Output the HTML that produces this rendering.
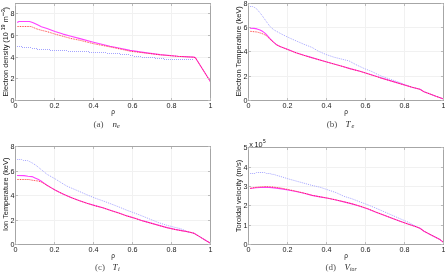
<!DOCTYPE html>
<html><head><meta charset="utf-8"><style>
html,body{margin:0;padding:0;background:#fff;}
svg{display:block;}
text{-webkit-font-smoothing:antialiased;}
.t{font-family:"Liberation Sans",sans-serif;font-size:7.2px;fill:#1a1a1a;}
.cap{font-family:"Liberation Serif",serif;font-size:9px;fill:#3a3a3a;}
</style></head><body>
<svg width="445" height="273" viewBox="0 0 445 273">
<rect width="445" height="273" fill="#fff"/>
<g style="will-change:transform">
<line x1="54.5" y1="3.5" x2="54.5" y2="100.5" stroke="#f1f1f1" stroke-width="1"/>
<line x1="93.5" y1="3.5" x2="93.5" y2="100.5" stroke="#f1f1f1" stroke-width="1"/>
<line x1="132.5" y1="3.5" x2="132.5" y2="100.5" stroke="#f1f1f1" stroke-width="1"/>
<line x1="171.5" y1="3.5" x2="171.5" y2="100.5" stroke="#f1f1f1" stroke-width="1"/>
<line x1="15.5" y1="78.50" x2="210.5" y2="78.50" stroke="#f1f1f1" stroke-width="1"/>
<line x1="15.5" y1="57.50" x2="210.5" y2="57.50" stroke="#f1f1f1" stroke-width="1"/>
<line x1="15.5" y1="35.50" x2="210.5" y2="35.50" stroke="#f1f1f1" stroke-width="1"/>
<line x1="15.5" y1="13.50" x2="210.5" y2="13.50" stroke="#f1f1f1" stroke-width="1"/>
<path d="M17,46.5H22 M22,47.5H32 M32,48.5H37 M37,49.5H50 M50,50.5H68 M68,51.5H89 M89,52.5H107 M107,53.5H120 M120,54.5H130 M130,55.5H134 M134,56.5H142 M142,57.5H155 M155,58.5H164 M164,59.5H194" fill="none" stroke="#a4a4ff" stroke-width="1" stroke-dasharray="1 1"/>
<polyline points="17.20,22.50 19.00,21.50 29.50,21.50 32.60,22.50 37.00,24.60 41.40,26.70 47.00,28.50 55.00,31.40 63.00,34.10 71.00,36.30 80.00,38.60 93.50,42.20 110.00,46.30 120.00,48.30 130.00,50.40 145.00,52.60 160.00,54.60 178.00,56.20 193.50,57.10 195.30,57.60 197.00,60.30 210.50,81.80" fill="none" stroke="#ff40ff" stroke-width="1.1" stroke-linejoin="round"/>
<polyline points="17.20,26.50 31.00,26.50 32.60,27.20 37.00,29.00 41.40,30.30 47.00,31.60 55.00,34.10 63.00,36.30 71.00,38.50 80.00,40.30 93.50,43.70 110.00,46.90 120.00,49.00 130.00,51.20 160.00,54.80 178.00,56.40 193.50,57.20 195.30,57.60 197.00,60.30 210.50,81.80" fill="none" stroke="#ff1010" stroke-opacity="0.5" stroke-width="1" stroke-dasharray="2.4 2.4" stroke-dashoffset="0.2"/>
<polyline points="17.20,26.50 31.00,26.50 32.60,27.20 37.00,29.00 41.40,30.30 47.00,31.60 55.00,34.10 63.00,36.30 71.00,38.50 80.00,40.30 93.50,43.70 110.00,46.90 120.00,49.00 130.00,51.20 160.00,54.80 178.00,56.40 193.50,57.20 195.30,57.60 197.00,60.30 210.50,81.80" fill="none" stroke="#ff1010" stroke-opacity="0.8" stroke-width="1" stroke-dasharray="1 3.8" stroke-dashoffset="-2.9"/>
<rect x="15.5" y="3.5" width="195.0" height="97.0" fill="none" stroke="#a6a6a6" stroke-width="1"/>
<line x1="15.5" y1="100.0" x2="15.5" y2="98.0" stroke="#bcbcbc" stroke-width="1"/>
<line x1="15.5" y1="4.0" x2="15.5" y2="6.0" stroke="#bcbcbc" stroke-width="1"/>
<line x1="54.5" y1="100.0" x2="54.5" y2="98.0" stroke="#bcbcbc" stroke-width="1"/>
<line x1="54.5" y1="4.0" x2="54.5" y2="6.0" stroke="#bcbcbc" stroke-width="1"/>
<line x1="93.5" y1="100.0" x2="93.5" y2="98.0" stroke="#bcbcbc" stroke-width="1"/>
<line x1="93.5" y1="4.0" x2="93.5" y2="6.0" stroke="#bcbcbc" stroke-width="1"/>
<line x1="132.5" y1="100.0" x2="132.5" y2="98.0" stroke="#bcbcbc" stroke-width="1"/>
<line x1="132.5" y1="4.0" x2="132.5" y2="6.0" stroke="#bcbcbc" stroke-width="1"/>
<line x1="171.5" y1="100.0" x2="171.5" y2="98.0" stroke="#bcbcbc" stroke-width="1"/>
<line x1="171.5" y1="4.0" x2="171.5" y2="6.0" stroke="#bcbcbc" stroke-width="1"/>
<line x1="210.5" y1="100.0" x2="210.5" y2="98.0" stroke="#bcbcbc" stroke-width="1"/>
<line x1="210.5" y1="4.0" x2="210.5" y2="6.0" stroke="#bcbcbc" stroke-width="1"/>
<line x1="16.0" y1="100.50" x2="18.0" y2="100.50" stroke="#bcbcbc" stroke-width="1"/>
<line x1="210.0" y1="100.50" x2="208.0" y2="100.50" stroke="#bcbcbc" stroke-width="1"/>
<line x1="16.0" y1="78.50" x2="18.0" y2="78.50" stroke="#bcbcbc" stroke-width="1"/>
<line x1="210.0" y1="78.50" x2="208.0" y2="78.50" stroke="#bcbcbc" stroke-width="1"/>
<line x1="16.0" y1="57.50" x2="18.0" y2="57.50" stroke="#bcbcbc" stroke-width="1"/>
<line x1="210.0" y1="57.50" x2="208.0" y2="57.50" stroke="#bcbcbc" stroke-width="1"/>
<line x1="16.0" y1="35.50" x2="18.0" y2="35.50" stroke="#bcbcbc" stroke-width="1"/>
<line x1="210.0" y1="35.50" x2="208.0" y2="35.50" stroke="#bcbcbc" stroke-width="1"/>
<line x1="16.0" y1="13.50" x2="18.0" y2="13.50" stroke="#bcbcbc" stroke-width="1"/>
<line x1="210.0" y1="13.50" x2="208.0" y2="13.50" stroke="#bcbcbc" stroke-width="1"/>
<text x="15.50" y="107.60" class="t" text-anchor="middle">0</text>
<text x="54.50" y="107.60" class="t" text-anchor="middle">0.2</text>
<text x="93.50" y="107.60" class="t" text-anchor="middle">0.4</text>
<text x="132.50" y="107.60" class="t" text-anchor="middle">0.6</text>
<text x="171.50" y="107.60" class="t" text-anchor="middle">0.8</text>
<text x="210.50" y="107.60" class="t" text-anchor="middle">1</text>
<text x="14.60" y="103.00" class="t" text-anchor="end">0</text>
<text x="14.60" y="81.00" class="t" text-anchor="end">2</text>
<text x="14.60" y="60.00" class="t" text-anchor="end">4</text>
<text x="14.60" y="38.00" class="t" text-anchor="end">6</text>
<text x="14.60" y="16.00" class="t" text-anchor="end">8</text>
<text x="113.00" y="113.50" class="t" style="font-size:6.5px" text-anchor="middle">&#961;</text>
<text transform="rotate(-90)" class="t" style="font-size:7.3px"><tspan x="-96.6" y="8.1">Electron density (10</tspan><tspan x="-30.6" y="5.0" style="font-size:5.6px;fill:#000">19</tspan><tspan x="-22.2" y="8.0">m</tspan><tspan x="-12.2" y="4.9" style="font-size:5.6px;fill:#000">3</tspan><tspan x="-9.6" y="8.0">)</tspan></text><line x1="3.3" y1="12.2" x2="3.3" y2="16.0" stroke="#000" stroke-width="0.6"/>
<text x="93.6" y="126.7" class="cap" style="fill:#505050">(a)</text>
<text x="112.6" y="126.7" class="cap" style="fill:#2a2a2a"><tspan font-style="italic">n</tspan><tspan font-style="italic" style="font-size:6.3px" dx="0.0" dy="1.2">e</tspan></text>
<line x1="287.5" y1="3.5" x2="287.5" y2="100.5" stroke="#f1f1f1" stroke-width="1"/>
<line x1="326.5" y1="3.5" x2="326.5" y2="100.5" stroke="#f1f1f1" stroke-width="1"/>
<line x1="365.5" y1="3.5" x2="365.5" y2="100.5" stroke="#f1f1f1" stroke-width="1"/>
<line x1="404.5" y1="3.5" x2="404.5" y2="100.5" stroke="#f1f1f1" stroke-width="1"/>
<line x1="248.5" y1="76.50" x2="443.5" y2="76.50" stroke="#f1f1f1" stroke-width="1"/>
<line x1="248.5" y1="51.50" x2="443.5" y2="51.50" stroke="#f1f1f1" stroke-width="1"/>
<line x1="248.5" y1="27.50" x2="443.5" y2="27.50" stroke="#f1f1f1" stroke-width="1"/>
<polyline points="250.20,6.50 252.40,6.50 254.60,7.50 256.80,9.00 259.00,11.70 261.20,14.30 263.40,17.40 265.60,20.50 267.80,23.50 270.00,26.50 273.90,29.90 282.00,34.30 290.00,38.20 298.00,41.70 304.00,44.30 312.00,47.40 318.00,51.00 326.00,54.50 334.00,57.20 342.00,59.20 349.00,60.90 356.00,64.70 364.60,68.70 372.00,71.60 380.00,75.60 390.00,79.20 400.00,82.60 405.00,84.70 412.00,87.20 420.00,89.30 424.00,91.80 428.00,93.20 436.00,96.30 443.50,98.90" fill="none" stroke="#a4a4ff" stroke-width="1" stroke-dasharray="1 1"/>
<polyline points="250.00,28.20 254.00,28.40 257.00,28.90 260.00,29.90 262.00,31.00 264.00,32.40 266.00,34.10 268.00,36.30 270.00,38.70 273.00,41.60 276.70,44.80 280.00,46.40 288.00,49.60 296.00,52.70 304.00,55.30 311.00,57.40 326.00,61.70 342.00,66.20 350.00,68.60 360.00,71.20 372.00,75.00 380.00,77.60 396.00,82.40 412.00,87.20 420.00,89.30 424.00,91.80 428.00,93.20 436.00,96.30 443.50,98.90" fill="none" stroke="#ff40ff" stroke-width="1.1" stroke-linejoin="round"/>
<polyline points="250.00,31.30 257.00,32.00 262.00,33.50 266.00,35.40 270.00,39.20 273.00,41.80 276.70,44.90 280.00,46.50 288.00,49.70 296.00,52.80 304.00,55.40 311.00,57.50 326.00,61.80 342.00,66.30 350.00,68.70 360.00,71.30 372.00,75.10 380.00,77.70 396.00,82.50 412.00,87.20 420.00,89.30 424.00,91.80 428.00,93.20 436.00,96.30 443.50,98.90" fill="none" stroke="#ff1010" stroke-opacity="0.5" stroke-width="1" stroke-dasharray="2.4 2.4" stroke-dashoffset="0.2"/>
<polyline points="250.00,31.30 257.00,32.00 262.00,33.50 266.00,35.40 270.00,39.20 273.00,41.80 276.70,44.90 280.00,46.50 288.00,49.70 296.00,52.80 304.00,55.40 311.00,57.50 326.00,61.80 342.00,66.30 350.00,68.70 360.00,71.30 372.00,75.10 380.00,77.70 396.00,82.50 412.00,87.20 420.00,89.30 424.00,91.80 428.00,93.20 436.00,96.30 443.50,98.90" fill="none" stroke="#ff1010" stroke-opacity="0.8" stroke-width="1" stroke-dasharray="1 3.8" stroke-dashoffset="-2.9"/>
<rect x="248.5" y="3.5" width="195.0" height="97.0" fill="none" stroke="#a6a6a6" stroke-width="1"/>
<line x1="248.5" y1="100.0" x2="248.5" y2="98.0" stroke="#bcbcbc" stroke-width="1"/>
<line x1="248.5" y1="4.0" x2="248.5" y2="6.0" stroke="#bcbcbc" stroke-width="1"/>
<line x1="287.5" y1="100.0" x2="287.5" y2="98.0" stroke="#bcbcbc" stroke-width="1"/>
<line x1="287.5" y1="4.0" x2="287.5" y2="6.0" stroke="#bcbcbc" stroke-width="1"/>
<line x1="326.5" y1="100.0" x2="326.5" y2="98.0" stroke="#bcbcbc" stroke-width="1"/>
<line x1="326.5" y1="4.0" x2="326.5" y2="6.0" stroke="#bcbcbc" stroke-width="1"/>
<line x1="365.5" y1="100.0" x2="365.5" y2="98.0" stroke="#bcbcbc" stroke-width="1"/>
<line x1="365.5" y1="4.0" x2="365.5" y2="6.0" stroke="#bcbcbc" stroke-width="1"/>
<line x1="404.5" y1="100.0" x2="404.5" y2="98.0" stroke="#bcbcbc" stroke-width="1"/>
<line x1="404.5" y1="4.0" x2="404.5" y2="6.0" stroke="#bcbcbc" stroke-width="1"/>
<line x1="443.5" y1="100.0" x2="443.5" y2="98.0" stroke="#bcbcbc" stroke-width="1"/>
<line x1="443.5" y1="4.0" x2="443.5" y2="6.0" stroke="#bcbcbc" stroke-width="1"/>
<line x1="249.0" y1="100.50" x2="251.0" y2="100.50" stroke="#bcbcbc" stroke-width="1"/>
<line x1="443.0" y1="100.50" x2="441.0" y2="100.50" stroke="#bcbcbc" stroke-width="1"/>
<line x1="249.0" y1="76.50" x2="251.0" y2="76.50" stroke="#bcbcbc" stroke-width="1"/>
<line x1="443.0" y1="76.50" x2="441.0" y2="76.50" stroke="#bcbcbc" stroke-width="1"/>
<line x1="249.0" y1="51.50" x2="251.0" y2="51.50" stroke="#bcbcbc" stroke-width="1"/>
<line x1="443.0" y1="51.50" x2="441.0" y2="51.50" stroke="#bcbcbc" stroke-width="1"/>
<line x1="249.0" y1="27.50" x2="251.0" y2="27.50" stroke="#bcbcbc" stroke-width="1"/>
<line x1="443.0" y1="27.50" x2="441.0" y2="27.50" stroke="#bcbcbc" stroke-width="1"/>
<line x1="249.0" y1="3.50" x2="251.0" y2="3.50" stroke="#bcbcbc" stroke-width="1"/>
<line x1="443.0" y1="3.50" x2="441.0" y2="3.50" stroke="#bcbcbc" stroke-width="1"/>
<text x="248.50" y="107.60" class="t" text-anchor="middle">0</text>
<text x="287.50" y="107.60" class="t" text-anchor="middle">0.2</text>
<text x="326.50" y="107.60" class="t" text-anchor="middle">0.4</text>
<text x="365.50" y="107.60" class="t" text-anchor="middle">0.6</text>
<text x="404.50" y="107.60" class="t" text-anchor="middle">0.8</text>
<text x="443.50" y="107.60" class="t" text-anchor="middle">1</text>
<text x="247.60" y="103.00" class="t" text-anchor="end">0</text>
<text x="247.60" y="79.00" class="t" text-anchor="end">2</text>
<text x="247.60" y="54.00" class="t" text-anchor="end">4</text>
<text x="247.60" y="30.00" class="t" text-anchor="end">6</text>
<text x="247.60" y="6.00" class="t" text-anchor="end">8</text>
<text x="346.00" y="113.50" class="t" style="font-size:6.5px" text-anchor="middle">&#961;</text>
<text transform="translate(240.9,51.4) rotate(-90)" class="t" style="font-size:7.42px" text-anchor="middle">Electron Temperature (keV)</text>
<text x="326.8" y="127.2" class="cap" style="fill:#505050">(b)</text>
<text x="345.6" y="127.2" class="cap" style="fill:#2a2a2a"><tspan font-style="italic">T</tspan><tspan font-style="italic" style="font-size:6.3px" dx="0.8" dy="1.2">e</tspan></text>
<line x1="54.5" y1="146.5" x2="54.5" y2="244.5" stroke="#f1f1f1" stroke-width="1"/>
<line x1="93.5" y1="146.5" x2="93.5" y2="244.5" stroke="#f1f1f1" stroke-width="1"/>
<line x1="132.5" y1="146.5" x2="132.5" y2="244.5" stroke="#f1f1f1" stroke-width="1"/>
<line x1="171.5" y1="146.5" x2="171.5" y2="244.5" stroke="#f1f1f1" stroke-width="1"/>
<line x1="15.5" y1="220.50" x2="210.5" y2="220.50" stroke="#f1f1f1" stroke-width="1"/>
<line x1="15.5" y1="195.50" x2="210.5" y2="195.50" stroke="#f1f1f1" stroke-width="1"/>
<line x1="15.5" y1="171.50" x2="210.5" y2="171.50" stroke="#f1f1f1" stroke-width="1"/>
<polyline points="17.20,159.50 21.60,159.50 23.40,160.50 27.30,160.50 29.50,161.50 32.60,163.20 36.10,165.40 39.60,168.30 43.10,171.10 47.00,174.30 55.00,178.80 63.00,183.80 67.00,186.20 71.00,187.90 79.00,191.30 87.00,194.80 95.00,198.10 103.00,200.90 111.00,203.90 119.00,207.00 127.00,210.30 135.00,213.20 143.00,216.30 151.00,219.60 159.00,222.80 167.00,225.30 175.00,227.40 180.00,228.50 185.00,230.50 186.00,231.40 191.00,232.50 194.00,233.30 200.00,236.90 205.00,240.00 210.50,243.30" fill="none" stroke="#a4a4ff" stroke-width="1" stroke-dasharray="1 1"/>
<polyline points="17.00,175.50 24.00,175.60 28.00,176.20 32.00,176.60 35.00,177.90 38.00,179.20 41.00,181.00 44.00,183.10 47.00,185.20 51.00,187.60 55.00,189.90 59.00,192.00 63.00,193.90 67.00,195.70 71.00,197.40 75.00,199.00 79.00,200.50 87.00,203.20 95.00,205.60 103.00,207.80 111.00,210.50 119.00,213.10 127.00,215.90 135.00,218.30 143.00,220.90 151.00,223.10 159.00,225.40 167.00,227.60 175.00,229.40 183.00,230.90 186.00,231.40 191.00,232.50 194.00,233.30 200.00,236.90 205.00,240.00 210.50,243.30" fill="none" stroke="#ff40ff" stroke-width="1.1" stroke-linejoin="round"/>
<polyline points="17.00,179.50 29.00,179.50 32.00,180.20 38.00,181.00 41.00,181.90 44.00,183.50 47.00,185.40 51.00,187.70 55.00,190.00 59.00,192.10 63.00,194.00 67.00,195.80 71.00,197.50 75.00,199.10 79.00,200.60 87.00,203.30 95.00,205.70 103.00,207.90 111.00,210.60 119.00,213.20 127.00,216.00 135.00,218.40 143.00,221.00 151.00,223.20 159.00,225.50 167.00,227.70 175.00,229.50 183.00,231.00 186.00,231.40 191.00,232.50 194.00,233.30 200.00,236.90 205.00,240.00 210.50,243.30" fill="none" stroke="#ff1010" stroke-opacity="0.5" stroke-width="1" stroke-dasharray="2.4 2.4" stroke-dashoffset="0.2"/>
<polyline points="17.00,179.50 29.00,179.50 32.00,180.20 38.00,181.00 41.00,181.90 44.00,183.50 47.00,185.40 51.00,187.70 55.00,190.00 59.00,192.10 63.00,194.00 67.00,195.80 71.00,197.50 75.00,199.10 79.00,200.60 87.00,203.30 95.00,205.70 103.00,207.90 111.00,210.60 119.00,213.20 127.00,216.00 135.00,218.40 143.00,221.00 151.00,223.20 159.00,225.50 167.00,227.70 175.00,229.50 183.00,231.00 186.00,231.40 191.00,232.50 194.00,233.30 200.00,236.90 205.00,240.00 210.50,243.30" fill="none" stroke="#ff1010" stroke-opacity="0.8" stroke-width="1" stroke-dasharray="1 3.8" stroke-dashoffset="-2.9"/>
<rect x="15.5" y="146.5" width="195.0" height="98.0" fill="none" stroke="#a6a6a6" stroke-width="1"/>
<line x1="15.5" y1="244.0" x2="15.5" y2="242.0" stroke="#bcbcbc" stroke-width="1"/>
<line x1="15.5" y1="147.0" x2="15.5" y2="149.0" stroke="#bcbcbc" stroke-width="1"/>
<line x1="54.5" y1="244.0" x2="54.5" y2="242.0" stroke="#bcbcbc" stroke-width="1"/>
<line x1="54.5" y1="147.0" x2="54.5" y2="149.0" stroke="#bcbcbc" stroke-width="1"/>
<line x1="93.5" y1="244.0" x2="93.5" y2="242.0" stroke="#bcbcbc" stroke-width="1"/>
<line x1="93.5" y1="147.0" x2="93.5" y2="149.0" stroke="#bcbcbc" stroke-width="1"/>
<line x1="132.5" y1="244.0" x2="132.5" y2="242.0" stroke="#bcbcbc" stroke-width="1"/>
<line x1="132.5" y1="147.0" x2="132.5" y2="149.0" stroke="#bcbcbc" stroke-width="1"/>
<line x1="171.5" y1="244.0" x2="171.5" y2="242.0" stroke="#bcbcbc" stroke-width="1"/>
<line x1="171.5" y1="147.0" x2="171.5" y2="149.0" stroke="#bcbcbc" stroke-width="1"/>
<line x1="210.5" y1="244.0" x2="210.5" y2="242.0" stroke="#bcbcbc" stroke-width="1"/>
<line x1="210.5" y1="147.0" x2="210.5" y2="149.0" stroke="#bcbcbc" stroke-width="1"/>
<line x1="16.0" y1="244.50" x2="18.0" y2="244.50" stroke="#bcbcbc" stroke-width="1"/>
<line x1="210.0" y1="244.50" x2="208.0" y2="244.50" stroke="#bcbcbc" stroke-width="1"/>
<line x1="16.0" y1="220.50" x2="18.0" y2="220.50" stroke="#bcbcbc" stroke-width="1"/>
<line x1="210.0" y1="220.50" x2="208.0" y2="220.50" stroke="#bcbcbc" stroke-width="1"/>
<line x1="16.0" y1="195.50" x2="18.0" y2="195.50" stroke="#bcbcbc" stroke-width="1"/>
<line x1="210.0" y1="195.50" x2="208.0" y2="195.50" stroke="#bcbcbc" stroke-width="1"/>
<line x1="16.0" y1="171.50" x2="18.0" y2="171.50" stroke="#bcbcbc" stroke-width="1"/>
<line x1="210.0" y1="171.50" x2="208.0" y2="171.50" stroke="#bcbcbc" stroke-width="1"/>
<line x1="16.0" y1="146.50" x2="18.0" y2="146.50" stroke="#bcbcbc" stroke-width="1"/>
<line x1="210.0" y1="146.50" x2="208.0" y2="146.50" stroke="#bcbcbc" stroke-width="1"/>
<text x="15.50" y="251.60" class="t" text-anchor="middle">0</text>
<text x="54.50" y="251.60" class="t" text-anchor="middle">0.2</text>
<text x="93.50" y="251.60" class="t" text-anchor="middle">0.4</text>
<text x="132.50" y="251.60" class="t" text-anchor="middle">0.6</text>
<text x="171.50" y="251.60" class="t" text-anchor="middle">0.8</text>
<text x="210.50" y="251.60" class="t" text-anchor="middle">1</text>
<text x="14.60" y="247.00" class="t" text-anchor="end">0</text>
<text x="14.60" y="223.00" class="t" text-anchor="end">2</text>
<text x="14.60" y="198.00" class="t" text-anchor="end">4</text>
<text x="14.60" y="174.00" class="t" text-anchor="end">6</text>
<text x="14.60" y="149.00" class="t" text-anchor="end">8</text>
<text x="113.00" y="257.50" class="t" style="font-size:6.5px" text-anchor="middle">&#961;</text>
<text transform="translate(7.9,194.35) rotate(-90)" class="t" style="font-size:7.4px" text-anchor="middle">Ion Temperature (keV)</text>
<text x="95.0" y="270.2" class="cap" style="fill:#505050">(c)</text>
<text x="112.6" y="270.2" class="cap" style="fill:#2a2a2a"><tspan font-style="italic">T</tspan><tspan font-style="italic" style="font-size:6.3px" dx="0.5" dy="1.2">i</tspan></text>
<line x1="287.5" y1="147.5" x2="287.5" y2="244.5" stroke="#f1f1f1" stroke-width="1"/>
<line x1="326.5" y1="147.5" x2="326.5" y2="244.5" stroke="#f1f1f1" stroke-width="1"/>
<line x1="365.5" y1="147.5" x2="365.5" y2="244.5" stroke="#f1f1f1" stroke-width="1"/>
<line x1="404.5" y1="147.5" x2="404.5" y2="244.5" stroke="#f1f1f1" stroke-width="1"/>
<line x1="248.5" y1="225.50" x2="443.5" y2="225.50" stroke="#f1f1f1" stroke-width="1"/>
<line x1="248.5" y1="205.50" x2="443.5" y2="205.50" stroke="#f1f1f1" stroke-width="1"/>
<line x1="248.5" y1="186.50" x2="443.5" y2="186.50" stroke="#f1f1f1" stroke-width="1"/>
<line x1="248.5" y1="167.50" x2="443.5" y2="167.50" stroke="#f1f1f1" stroke-width="1"/>
<polyline points="250.20,173.50 255.00,173.50 256.50,172.50 264.50,172.50 266.50,173.50 270.00,173.50 272.00,174.40 274.00,174.40 276.00,175.20 281.00,176.60 288.00,178.80 296.00,181.00 304.00,183.20 312.00,185.40 320.00,187.20 328.00,189.90 336.00,192.60 344.00,196.30 352.00,198.80 360.00,201.90 368.00,204.90 376.00,208.20 384.00,211.70 392.00,215.20 400.00,218.70 408.00,222.10 412.00,224.20 418.00,227.50 420.00,228.30 424.00,231.20 432.00,235.40 440.00,239.60 443.50,242.40" fill="none" stroke="#a4a4ff" stroke-width="1" stroke-dasharray="1 1"/>
<polyline points="250.00,188.50 256.00,187.80 260.00,187.50 266.00,187.20 272.00,187.60 280.00,188.60 288.00,190.00 296.00,191.50 304.00,193.30 312.00,195.40 320.00,196.90 328.00,198.30 336.00,200.00 344.00,201.90 352.00,203.90 360.00,206.30 368.00,208.90 376.00,212.20 384.00,215.20 392.00,218.30 400.00,221.30 408.00,224.10 416.00,226.70 420.00,228.30 424.00,231.20 432.00,235.40 440.00,239.60 443.50,242.40" fill="none" stroke="#ff40ff" stroke-width="1.1" stroke-linejoin="round"/>
<polyline points="250.00,188.30 256.00,187.30 260.00,186.90 266.00,186.60 272.00,186.90 280.00,187.90 288.00,189.50 296.00,191.20 304.00,193.10 312.00,195.30 320.00,196.80 328.00,198.20 336.00,199.90 344.00,201.80 352.00,203.80 360.00,206.20 368.00,208.80 376.00,212.10 384.00,215.10 392.00,218.20 400.00,221.20 408.00,224.10 416.00,226.70 420.00,228.30 424.00,231.20 432.00,235.40 440.00,239.60 443.50,242.40" fill="none" stroke="#ff1010" stroke-opacity="0.5" stroke-width="1" stroke-dasharray="2.4 2.4" stroke-dashoffset="0.2"/>
<polyline points="250.00,188.30 256.00,187.30 260.00,186.90 266.00,186.60 272.00,186.90 280.00,187.90 288.00,189.50 296.00,191.20 304.00,193.10 312.00,195.30 320.00,196.80 328.00,198.20 336.00,199.90 344.00,201.80 352.00,203.80 360.00,206.20 368.00,208.80 376.00,212.10 384.00,215.10 392.00,218.20 400.00,221.20 408.00,224.10 416.00,226.70 420.00,228.30 424.00,231.20 432.00,235.40 440.00,239.60 443.50,242.40" fill="none" stroke="#ff1010" stroke-opacity="0.8" stroke-width="1" stroke-dasharray="1 3.8" stroke-dashoffset="-2.9"/>
<rect x="248.5" y="147.5" width="195.0" height="97.0" fill="none" stroke="#a6a6a6" stroke-width="1"/>
<line x1="248.5" y1="244.0" x2="248.5" y2="242.0" stroke="#bcbcbc" stroke-width="1"/>
<line x1="248.5" y1="148.0" x2="248.5" y2="150.0" stroke="#bcbcbc" stroke-width="1"/>
<line x1="287.5" y1="244.0" x2="287.5" y2="242.0" stroke="#bcbcbc" stroke-width="1"/>
<line x1="287.5" y1="148.0" x2="287.5" y2="150.0" stroke="#bcbcbc" stroke-width="1"/>
<line x1="326.5" y1="244.0" x2="326.5" y2="242.0" stroke="#bcbcbc" stroke-width="1"/>
<line x1="326.5" y1="148.0" x2="326.5" y2="150.0" stroke="#bcbcbc" stroke-width="1"/>
<line x1="365.5" y1="244.0" x2="365.5" y2="242.0" stroke="#bcbcbc" stroke-width="1"/>
<line x1="365.5" y1="148.0" x2="365.5" y2="150.0" stroke="#bcbcbc" stroke-width="1"/>
<line x1="404.5" y1="244.0" x2="404.5" y2="242.0" stroke="#bcbcbc" stroke-width="1"/>
<line x1="404.5" y1="148.0" x2="404.5" y2="150.0" stroke="#bcbcbc" stroke-width="1"/>
<line x1="443.5" y1="244.0" x2="443.5" y2="242.0" stroke="#bcbcbc" stroke-width="1"/>
<line x1="443.5" y1="148.0" x2="443.5" y2="150.0" stroke="#bcbcbc" stroke-width="1"/>
<line x1="249.0" y1="244.50" x2="251.0" y2="244.50" stroke="#bcbcbc" stroke-width="1"/>
<line x1="443.0" y1="244.50" x2="441.0" y2="244.50" stroke="#bcbcbc" stroke-width="1"/>
<line x1="249.0" y1="225.50" x2="251.0" y2="225.50" stroke="#bcbcbc" stroke-width="1"/>
<line x1="443.0" y1="225.50" x2="441.0" y2="225.50" stroke="#bcbcbc" stroke-width="1"/>
<line x1="249.0" y1="205.50" x2="251.0" y2="205.50" stroke="#bcbcbc" stroke-width="1"/>
<line x1="443.0" y1="205.50" x2="441.0" y2="205.50" stroke="#bcbcbc" stroke-width="1"/>
<line x1="249.0" y1="186.50" x2="251.0" y2="186.50" stroke="#bcbcbc" stroke-width="1"/>
<line x1="443.0" y1="186.50" x2="441.0" y2="186.50" stroke="#bcbcbc" stroke-width="1"/>
<line x1="249.0" y1="167.50" x2="251.0" y2="167.50" stroke="#bcbcbc" stroke-width="1"/>
<line x1="443.0" y1="167.50" x2="441.0" y2="167.50" stroke="#bcbcbc" stroke-width="1"/>
<line x1="249.0" y1="147.50" x2="251.0" y2="147.50" stroke="#bcbcbc" stroke-width="1"/>
<line x1="443.0" y1="147.50" x2="441.0" y2="147.50" stroke="#bcbcbc" stroke-width="1"/>
<text x="248.50" y="251.60" class="t" text-anchor="middle">0</text>
<text x="287.50" y="251.60" class="t" text-anchor="middle">0.2</text>
<text x="326.50" y="251.60" class="t" text-anchor="middle">0.4</text>
<text x="365.50" y="251.60" class="t" text-anchor="middle">0.6</text>
<text x="404.50" y="251.60" class="t" text-anchor="middle">0.8</text>
<text x="443.50" y="251.60" class="t" text-anchor="middle">1</text>
<text x="247.60" y="247.00" class="t" text-anchor="end">0</text>
<text x="247.60" y="228.00" class="t" text-anchor="end">1</text>
<text x="247.60" y="208.00" class="t" text-anchor="end">2</text>
<text x="247.60" y="189.00" class="t" text-anchor="end">3</text>
<text x="247.60" y="170.00" class="t" text-anchor="end">4</text>
<text x="247.60" y="150.00" class="t" text-anchor="end">5</text>
<text x="346.00" y="257.50" class="t" style="font-size:6.5px" text-anchor="middle">&#961;</text>
<text transform="translate(240.9,196.05) rotate(-90)" class="t" style="font-size:7.5px" text-anchor="middle">Toroidal velocity (m/s)</text>
<text x="325.6" y="270.2" class="cap" style="fill:#505050">(d)</text>
<text x="344.5" y="270.2" class="cap" style="fill:#2a2a2a"><tspan font-style="italic">V</tspan><tspan font-style="italic" style="font-size:5.8px" dx="0.0" dy="1.2">tor</tspan></text>
<text x="249.2" y="146.7" class="t" style="font-size:7.3px">x<tspan dx="1.6">10</tspan><tspan style="font-size:4.8px;fill:#000" dx="0.5" dy="-3.3">5</tspan></text>
</g>
</svg>
</body></html>
